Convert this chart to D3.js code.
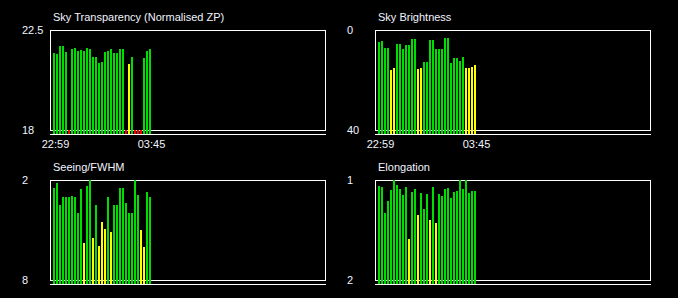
<!DOCTYPE html>
<html>
<head>
<meta charset="utf-8">
<script src="https://cdn.jsdelivr.net/npm/d3@7"></script>
<style>
  html, body { margin: 0; padding: 0; background: #000; }
  svg text { font-family: "Liberation Sans", Arial, sans-serif; font-size: 11px; fill: #f2f4ff; }
</style>
</head>
<body>
<div id="chart"></div>
<script>
// values per exposure (values outside the axis range get clamped)
var transparency = [21.47, 21.42, 21.78, 21.78, 21.51, 17.5, 21.65, 21.69, 21.56, 21.60, 21.56,
    21.69, 21.65, 21.29, 21.29, 21.02, 21.06, 21.51, 21.56, 21.65, 21.47, 21.47, 21.65, 21.65,
    17.5, 20.95, 21.29, 17.5, 17.5, 17.5, 21.24, 21.56, 21.65];
var skyBrightness = [4.8, 4.4, 7.2, 7.2, 16.0, 15.2, 5.6, 5.6, 7.6, 6.0, 6.0, 3.6, 3.6, 15.6, 15.2,
    12.8, 12.8, 4.0, 4.0, 7.6, 7.6, 7.6, 3.2, 3.2, 13.2, 11.2, 11.2, 12.4, 10.8, 15.2, 15.2, 14.8, 14.0];
var seeing = [2.5, 2.2, 3.5, 3.0, 3.0, 3.0, 2.95, 3.0, 4.0, 2.55, 5.8, 2.35, 2.0, 5.5, 3.5, 5.95,
    4.5, 4.95, 3.0, 5.1, 3.5, 3.5, 2.5, 2.5, 3.4, 4.0, 4.0, 2.0, 2.9, 5.0, 6.0, 2.7, 3.0];
var elongation = [1.06, 1.07, 1.33, 1.21, 1.10, 1.0, 1.05, 1.09, 1.15, 1.07, 1.59, 1.12, 1.09, 1.35,
    1.13, 1.29, 1.14, 1.40, 1.07, 1.43, 1.14, 1.16, 1.09, 1.08, 1.18, 1.12, 1.11, 1.0, 1.09, 1.0,
    1.13, 1.11, 1.11];
var timeLabels = ['22:59', '03:45'];
var timeIndex = [0, 32];

var W = 678, H = 298;
var green = '#00dd00', yellow = '#ffff00', red = '#ff0000';

var svg = d3.select('#chart').append('svg')
    .attr('width', W)
    .attr('height', H);

function drawPanel(opts){
    var x0 = opts.x, top = opts.y, pw = 275, ph = 100;
    var g = svg.append('g').attr('class', 'panel');

    //3px per exposure slot, night fits ~91 slots
    var xScale = d3.scaleLinear()
        .domain([0, 91])
        .range([x0 + 3, x0 + 3 + 273]);
    var yScale = d3.scaleLinear()
        .domain(opts.domain)
        .range([top + ph, top])
        .clamp(true);
    var base = top + ph + 4;

    g.append('text')
        .attr('x', x0 + 3)
        .attr('y', top - 9)
        .text(opts.title);

    g.selectAll('text.ylab')
        .data(opts.domain)
        .enter().append('text')
        .attr('class', 'ylab')
        .attr('x', x0 - 28)
        .attr('y', d => yScale(d) + 4)
        .text(d => d);

    g.append('rect')
        .attr('x', x0 + 0.5)
        .attr('y', top + 0.5)
        .attr('width', pw)
        .attr('height', ph)
        .attr('fill', 'none')
        .attr('stroke', '#fff')
        .attr('stroke-width', 1);

    g.append('line')
        .attr('x1', x0)
        .attr('x2', x0 + pw + 1)
        .attr('y1', base + 0.5)
        .attr('y2', base + 0.5)
        .attr('stroke', '#fff');

    g.selectAll('rect.bar')
        .data(opts.values)
        .enter().append('rect')
        .attr('class', 'bar')
        .attr('x', (d, i) => xScale(i))
        .attr('width', 2)
        .attr('y', d => Math.round(yScale(d)))
        .attr('height', d => base - Math.round(yScale(d)))
        .attr('fill', opts.color);

    if(opts.times){
        g.selectAll('text.tlab')
            .data(timeIndex)
            .enter().append('text')
            .attr('class', 'tlab')
            .attr('text-anchor', 'middle')
            .attr('x', d => xScale(d) + 2.5)
            .attr('y', base + 14)
            .text((d, i) => timeLabels[i]);
    }
}

drawPanel({ x: 50, y: 30, title: 'Sky Transparency (Normalised ZP)', domain: [18, 22.5],
    values: transparency, times: true,
    color: d => d < 18 ? red : (d < 21 ? yellow : green) });
drawPanel({ x: 375, y: 30, title: 'Sky Brightness', domain: [40, 0],
    values: skyBrightness, times: true,
    color: d => d > 13.6 ? yellow : green });
drawPanel({ x: 50, y: 180, title: 'Seeing/FWHM', domain: [8, 2],
    values: seeing, times: false,
    color: d => d > 4.2 ? yellow : green });
drawPanel({ x: 375, y: 180, title: 'Elongation', domain: [2, 1],
    values: elongation, times: false,
    color: d => d > 1.34 ? yellow : green });
</script>
</body>
</html>
